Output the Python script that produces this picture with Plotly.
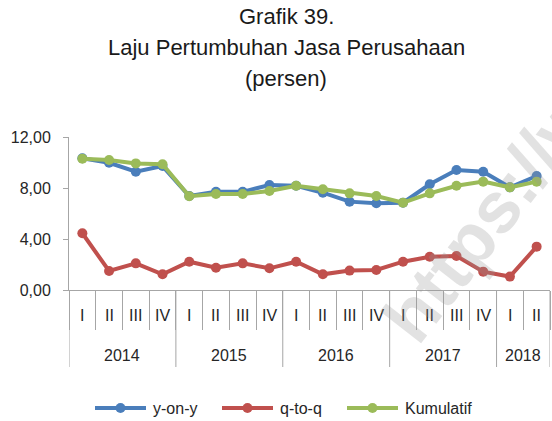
import plotly.graph_objects as go

years = ["2014"] * 4 + ["2015"] * 4 + ["2016"] * 4 + ["2017"] * 4 + ["2018"] * 2
quarters = ["I", "II", "III", "IV"] * 4 + ["I", "II"]

yoy = [10.33, 9.98, 9.28, 9.72, 7.37, 7.71, 7.70, 8.24, 8.18, 7.63, 6.93, 6.80,
       6.85, 8.29, 9.41, 9.28, 8.05, 8.94]
qtq = [4.45, 1.49, 2.09, 1.23, 2.22, 1.75, 2.09, 1.70, 2.22, 1.23, 1.52, 1.57,
       2.22, 2.61, 2.67, 1.44, 1.05, 3.40]
kumulatif = [10.30, 10.20, 9.93, 9.86, 7.36, 7.53, 7.53, 7.76, 8.18, 7.90, 7.58, 7.37,
             6.85, 7.58, 8.18, 8.50, 8.05, 8.50]

title_lines = ["Grafik 39.", "Laju Pertumbuhan Jasa Perusahaan", "(persen)"]

series = [
    ("y-on-y", yoy, "#4a7ebb"),
    ("q-to-q", qtq, "#c0504d"),
    ("Kumulatif", kumulatif, "#9bbb59"),
]

FONT = "Liberation Sans, Arial, sans-serif"
AXIS = "#a6a6a6"
TEXT = "#262626"

W, H = 552, 421
ML, MR, MT, MB = 69, 2, 137, 131
PW, PH = W - ML - MR, H - MT - MB


def px_x(p):
    return (p - ML) / PW


def px_y(p):
    return (H - MB - p) / PH


xpos = list(range(len(quarters)))

fig = go.Figure()
for name, vals, color in series:
    fig.add_trace(go.Scatter(
        x=xpos, y=vals, name=name, mode="lines+markers",
        line=dict(color=color, width=4),
        marker=dict(color=color, size=10),
        showlegend=False, cliponaxis=False,
    ))

fig.update_layout(
    width=W, height=H,
    margin=dict(l=ML, r=MR, t=MT, b=MB),
    paper_bgcolor="white", plot_bgcolor="white",
    separators=",.",
    font=dict(family=FONT, size=16, color=TEXT),
    xaxis=dict(
        range=[-0.5, len(quarters) - 0.5],
        showline=True, linecolor=AXIS, linewidth=1,
        tickmode="array", tickvals=[i - 0.5 for i in range(len(quarters) + 1)],
        ticks="outside", ticklen=39, tickcolor=AXIS, tickwidth=1,
        showticklabels=False, showgrid=False, zeroline=False,
    ),
    yaxis=dict(
        range=[0, 12], dtick=4, tickformat=".2f",
        showline=True, linecolor=AXIS, linewidth=1,
        ticks="outside", ticklen=5, tickcolor=AXIS,
        ticklabelstandoff=9,
        showgrid=False, zeroline=False,
        tickfont=dict(family=FONT, size=16, color=TEXT),
    ),
)

# quarter labels
for i, q in enumerate(quarters):
    fig.add_annotation(x=i, y=px_y(315), xref="x", yref="paper", text=q,
                       xanchor="center", yanchor="middle",
                       showarrow=False, font=dict(size=16, color=TEXT))

# year labels and group dividers
groups = []
for i, y in enumerate(years):
    if not groups or groups[-1][0] != y:
        groups.append([y, i, i])
    else:
        groups[-1][2] = i
for y, a, b in groups:
    fig.add_annotation(x=(a + b) / 2, y=px_y(355), xref="x", yref="paper", text=y,
                       xanchor="center", yanchor="middle",
                       showarrow=False, font=dict(size=16, color=TEXT))
bounds = [a - 0.5 for _, a, _ in groups] + [groups[-1][2] + 0.5]
for bx in bounds:
    fig.add_shape(type="line", xref="x", yref="paper", x0=bx, x1=bx,
                  y0=0, y1=px_y(367), line=dict(color=AXIS, width=1))

# title
for txt, yp in zip(title_lines, [17, 47, 78]):
    fig.add_annotation(text=txt, xref="paper", yref="paper", x=px_x(286), y=px_y(yp),
                       showarrow=False, xanchor="center", yanchor="middle",
                       font=dict(family=FONT, size=22, color="#1a1a1a"))

# legend
leg_y = px_y(408)
for (name, _, color), x0 in zip(series, [95, 222, 347]):
    fig.add_shape(type="line", xref="paper", yref="paper",
                  x0=px_x(x0), x1=px_x(x0 + 51), y0=leg_y, y1=leg_y,
                  line=dict(color=color, width=4))
    cx = x0 + 25.5
    fig.add_shape(type="circle", xref="paper", yref="paper",
                  x0=px_x(cx - 5), x1=px_x(cx + 5),
                  y0=leg_y - 5 / PH, y1=leg_y + 5 / PH,
                  line=dict(color=color, width=0), fillcolor=color)
    fig.add_annotation(text=name, xref="paper", yref="paper", x=px_x(x0 + 56), y=leg_y,
                       showarrow=False, xanchor="left", yanchor="middle",
                       font=dict(size=16, color=TEXT))

# faint site watermark across the right side
fig.add_annotation(
    text="<b>https://www</b>", xref="paper", yref="paper",
    x=px_x(524), y=px_y(171), xanchor="center", yanchor="middle",
    showarrow=False, textangle=-52,
    font=dict(family=FONT, size=72, color="rgba(150,150,150,0.28)"),
)

fig.write_html("out.html")
